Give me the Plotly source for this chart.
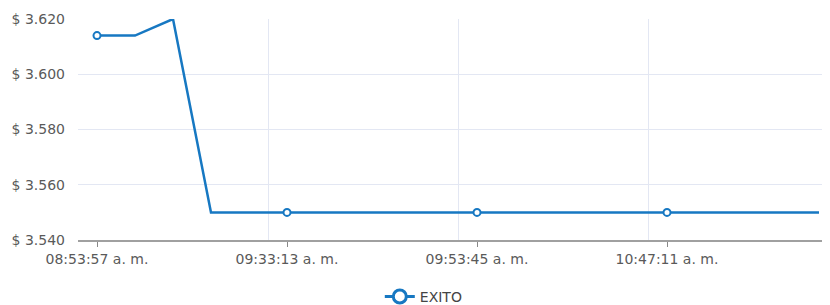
import plotly.graph_objects as go

series_name = "EXITO"
prices = [3614, 3614, 3620, 3550, 3550, 3550, 3550, 3550, 3550, 3550,
          3550, 3550, 3550, 3550, 3550, 3550, 3550, 3550, 3550, 3550]
tick_labels = ["08:53:57 a. m.", "09:33:13 a. m.", "09:53:45 a. m.", "10:47:11 a. m."]
label_step = 5
y_ticks = [3540, 3560, 3580, 3600, 3620]

x = list(range(len(prices)))
tick_pos = [i * label_step for i in range(len(tick_labels))]
y_text = ["$ " + f"{v:,}".replace(",", ".") for v in y_ticks]

blue = "#1778c2"
clear = "rgba(0,0,0,0)"
marked = [i % label_step == 0 for i in x]

fig = go.Figure()
fig.add_trace(go.Scatter(
    x=x, y=prices, name=series_name, mode="lines+markers", showlegend=False,
    line=dict(color=blue, width=2.5),
    marker=dict(size=7, symbol="circle",
                color=["white" if m else clear for m in marked],
                line=dict(width=2, color=[blue if m else clear for m in marked])),
))
# legend entry
fig.add_trace(go.Scatter(
    x=[None], y=[None], name=series_name, mode="lines+markers",
    line=dict(color=blue, width=3),
    marker=dict(size=13, color="white", line=dict(width=3, color=blue)),
))

font_family = "DejaVu Sans, Verdana, sans-serif"
fig.update_layout(
    width=830, height=305,
    margin=dict(l=70, r=0, t=11, b=73),
    paper_bgcolor="white", plot_bgcolor="white",
    font=dict(family=font_family, size=14, color="#5a5a5a"),
    showlegend=True,
    legend=dict(orientation="h", x=0.455, xanchor="center",
                y=-0.185, yanchor="top",
                font=dict(size=14, color="#444444")),
    xaxis=dict(
        range=[-0.5, 19.5], showgrid=False, zeroline=False, automargin=False,
        tickmode="array", tickvals=tick_pos, ticktext=tick_labels, tickangle=0,
        ticks="outside", ticklen=5, tickcolor="#888888", tickwidth=1,
        showline=True, linecolor="#a0a0a0", linewidth=1.5,
        minor=dict(tickmode="linear", tick0=-0.5, dtick=label_step, showgrid=True,
                   gridcolor="#e3e7f3", gridwidth=1, ticks=""),
    ),
    yaxis=dict(
        range=[3540, 3620], tickmode="array", tickvals=y_ticks, ticktext=y_text,
        showgrid=True, gridcolor="#e3e7f3", gridwidth=1, zeroline=False,
        showline=False, ticks="", ticklabelstandoff=12, automargin=False,
    ),
)

fig.write_html("out.html")
